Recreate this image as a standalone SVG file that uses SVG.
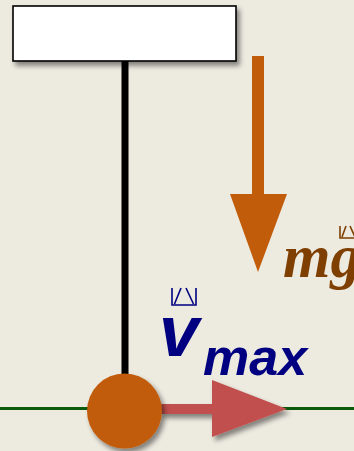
<svg xmlns="http://www.w3.org/2000/svg" width="354" height="451" viewBox="0 0 354 451">
<defs>
<style>
.bg{fill:#EDEAE0}
.vec{fill:none;stroke-width:1.6}
.lbl{font-weight:bold;font-style:italic}
</style>
<filter id="sh" x="-20%" y="-20%" width="150%" height="160%">
<feDropShadow dx="3" dy="4" stdDeviation="2.5" flood-color="#000" flood-opacity="0.45"/>
</filter>
</defs>
<rect class="bg" x="0" y="0" width="354" height="451"/>
<g id="ground"><rect x="0" y="407" width="354" height="3" fill="#0B5A0B"/></g>
<g id="connectors">
<rect x="121.5" y="60" width="7" height="325" fill="#000"/>
<g id="velocity-arrow" filter="url(#sh)"><path d="M160,404 H212 V380 L287,409 L212,437 V414 H160 Z" fill="#C0504D"/></g>
<g id="gravity-arrow"><path d="M252,56 H264 V194 H287 L258,272 L230,194 H252 Z" fill="#C15C0B"/></g>
</g>
<g id="support"><rect x="13" y="6" width="223" height="55" fill="#fff" stroke="#000" stroke-width="1.6" filter="url(#sh)"/></g>
<g id="bob"><circle cx="124.5" cy="411" r="37.5" fill="#C15C0B" filter="url(#sh)"/></g>
<g id="label-v">
<path class="vec" stroke="#000080" d="M172,288 V305 H196 V288 M174.5,304 L181,288 M186,288 L193.5,304"/>
<text class="lbl" x="159" y="356" font-family="'Liberation Sans',Arial,sans-serif" font-size="72" fill="#000080">v</text>
<text class="lbl" x="203" y="375" font-family="'Liberation Sans',Arial,sans-serif" font-size="52" fill="#000080">max</text>
</g>
<g id="label-mg">
<path class="vec" stroke="#7F3F00" d="M340,226 V238 H360 M342,237 L346,226 M350,226 L355,237"/>
<text class="lbl" x="283" y="277" font-family="'Liberation Serif','Times New Roman',serif" font-size="61" fill="#7F3F00">mg</text>
</g>
</svg>
